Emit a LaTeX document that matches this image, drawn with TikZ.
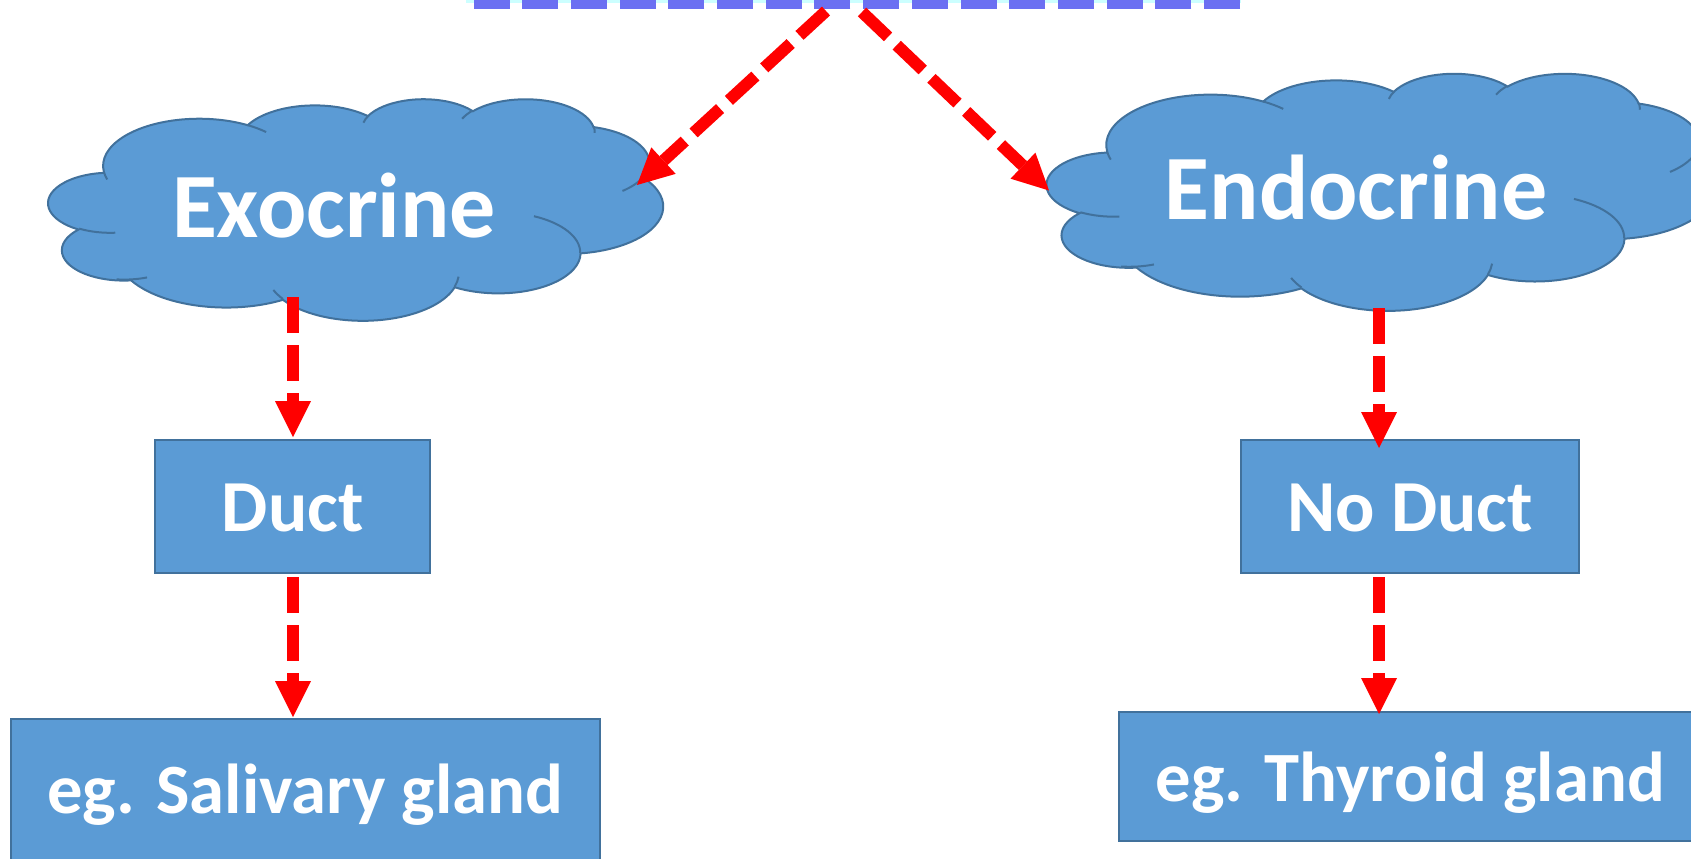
\documentclass[tikz,border=0pt]{standalone}
\usepackage{fontspec}
\setmainfont{Carlito}
\usetikzlibrary{arrows.meta}
\definecolor{fillblue}{HTML}{5B9BD5}
\definecolor{edgeblue}{HTML}{41719C}
\definecolor{topdash}{HTML}{6B70F2}
\definecolor{topfill}{HTML}{CCFFFF}
\newcommand\ooset[5]{%
  \pgfmathsetmacro\ooa{atan2(#2*sin(#4),#3*cos(#4))}%
  \pgfmathsetmacro\oob{atan2(#2*sin(#4+#5),#3*cos(#4+#5))}%
  \pgfmathsetmacro\ood{\oob-\ooa}%
  \pgfmathsetmacro\ood{\ood+360*round((#5-\ood)/360)}%
  \expandafter\xdef\csname ooS#1\endcsname{\ooa}%
  \expandafter\xdef\csname ooD#1\endcsname{\ood}%
}
\ooset{A}{67.53}{91.90}{-190.4875}{123.7805}
\ooset{B}{53.33}{72.67}{-144.1024}{89.9452}
\ooset{C}{43.65}{59.45}{-145.8079}{99.7230}
\ooset{D}{48.57}{65.95}{-130.9861}{117.2417}
\ooset{E}{53.33}{72.73}{-78.7089}{109.0269}
\ooset{F}{67.75}{92.20}{-46.2673}{130.2690}
\ooset{G}{57.85}{78.67}{0.6250}{114.0333}
\ooset{H}{67.52}{92.15}{22.4516}{115.1726}
\ooset{I}{77.20}{105.43}{66.2426}{75.7110}
\ooset{J}{43.60}{59.18}{-274.9421}{146.7356}
\ooset{K}{43.45}{59.45}{-246.8285}{152.5189}
\ooset{a}{43.45}{59.45}{86.7420}{26.4295}
\ooset{b}{43.60}{59.18}{73.6105}{21.4138}
\ooset{c}{67.52}{92.15}{137.6242}{14.0811}
\ooset{d}{67.52}{92.15}{6.4533}{15.9984}
\ooset{e}{57.85}{78.67}{-70.2924}{70.9174}
\ooset{f}{53.33}{72.73}{30.3180}{27.7515}
\ooset{g}{48.57}{65.95}{-13.7443}{14.8589}
\ooset{h}{48.57}{65.95}{-149.1815}{18.1954}
\ooset{i}{43.65}{59.45}{-163.4943}{17.6864}
\ooset{j}{67.53}{91.90}{-66.7070}{12.3194}
\ooset{k}{67.53}{91.90}{157.6544}{11.8582}
\tikzset{
  cloudshape/.style={fill=fillblue,draw=edgeblue,line width=1.5pt},
  cloudline/.style={draw=edgeblue,line width=1.5pt},
  cloudtext/.style={anchor=base,text=white,inner sep=0pt,font=\fontsize{69}{80}\selectfont\bfseries},
  box/.style={rectangle,fill=fillblue,draw=edgeblue,line width=1.5pt,inner sep=0pt,text=white,text depth=0pt},
  arr/.style={draw=red,line width=9pt,dash pattern=on 27pt off 9pt,-{Triangle[width=27pt,length=27pt,line width=0pt]}},
  topline/.style={draw=topdash,line width=9pt,dash pattern=on 27pt off 9.525pt}
}
\newcommand\drawcloud[4]{%
\begin{scope}[shift={(#1,#2)},x=1pt,y=1pt,xscale=#3,yscale=#4]
\path[cloudshape] (39.00,143.70)
 arc[start angle=\ooSA,delta angle=\ooDA,x radius=67.53,y radius=91.90]
 arc[start angle=\ooSB,delta angle=\ooDB,x radius=53.33,y radius=72.67]
 arc[start angle=\ooSC,delta angle=\ooDC,x radius=43.65,y radius=59.45]
 arc[start angle=\ooSD,delta angle=\ooDD,x radius=48.57,y radius=65.95]
 arc[start angle=\ooSE,delta angle=\ooDE,x radius=53.33,y radius=72.73]
 arc[start angle=\ooSF,delta angle=\ooDF,x radius=67.75,y radius=92.20]
 arc[start angle=\ooSG,delta angle=\ooDG,x radius=57.85,y radius=78.67]
 arc[start angle=\ooSH,delta angle=\ooDH,x radius=67.52,y radius=92.15]
 arc[start angle=\ooSI,delta angle=\ooDI,x radius=77.20,y radius=105.43]
 arc[start angle=\ooSJ,delta angle=\ooDJ,x radius=43.60,y radius=59.18]
 arc[start angle=\ooSK,delta angle=\ooDK,x radius=43.45,y radius=59.45]
 -- cycle;
\path[cloudline]
 (46.93,261.77) arc[start angle=\ooSa,delta angle=\ooDa,x radius=43.45,y radius=59.45]
 (69.28,348.99) arc[start angle=\ooSb,delta angle=\ooDb,x radius=43.60,y radius=59.18]
 (164.78,390.90) arc[start angle=\ooSc,delta angle=\ooDc,x radius=67.52,y radius=92.15]
 (288.27,347.51) arc[start angle=\ooSd,delta angle=\ooDd,x radius=67.52,y radius=92.15]
 (341.29,229.54) arc[start angle=\ooSe,delta angle=\ooDe,x radius=57.85,y radius=78.67]
 (417.98,153.54) arc[start angle=\ooSf,delta angle=\ooDf,x radius=53.33,y radius=72.73]
 (383.24,54.26) arc[start angle=\ooSg,delta angle=\ooDg,x radius=48.57,y radius=65.95]
 (290.78,39.52) arc[start angle=\ooSh,delta angle=\ooDh,x radius=48.57,y radius=65.95]
 (221.41,47.20) arc[start angle=\ooSi,delta angle=\ooDi,x radius=43.65,y radius=59.45]
 (140.00,51.92) arc[start angle=\ooSj,delta angle=\ooDj,x radius=67.53,y radius=91.90]
 (41.27,157.89) arc[start angle=\ooSk,delta angle=\ooDk,x radius=67.53,y radius=91.90];
\end{scope}}
\begin{document}
\begin{tikzpicture}[x=0.75pt,y=-0.75pt]
\useasboundingbox (0,0) rectangle (1691,858);
\clip (0,0) rectangle (1691,858);
% top box fragment
\fill[topfill] (466,-20) rectangle (1241,2.7);
\draw[topline] (1240,2.7) -- (466,2.7);
% clouds
\drawcloud{48.5}{98.5}{1.06684}{-0.384549}
\drawcloud{1047}{73}{1.15799}{-0.411458}
\node[cloudtext] (exo) at (334,237) {Exocrine};
\node[cloudtext] (endo) at (1356,219) {Endocrine};
% boxes
\node[box,minimum width=206.3pt,minimum height=99.9pt,text height=38.25pt,font=\fontsize{55}{60}\selectfont\bfseries] (duct) at (292.7,506.1) {Duct};
\node[box,minimum width=253.2pt,minimum height=99.9pt,text height=38.25pt,font=\fontsize{55}{60}\selectfont\bfseries] (noduct) at (1410,506.1) {No Duct};
\node[box,minimum width=441.6pt,minimum height=109.3pt,text height=31.3pt,font=\fontsize{53}{60}\selectfont\bfseries] (saliv) at (305.2,792.15) {eg. Salivary gland};
\node[box,minimum width=436.2pt,minimum height=97pt,text height=37pt,font=\fontsize{53}{60}\selectfont\bfseries] (thyr) at (1410.2,776.35) {eg. Thyroid gland};
% connector ends
\coordinate (topL) at (826,11);
\coordinate (topR) at (862,12);
\coordinate (exoIn) at (637,185);
\coordinate (endoIn) at (1049,190.5);
\coordinate (exoOut) at (293,297);
\coordinate (ductIn) at (293,437);
\coordinate (ductOut) at (293,577);
\coordinate (salIn) at (293,717);
\coordinate (endoOut) at (1379,308);
\coordinate (noductIn) at (1379,448);
\coordinate (noductOut) at (1379,577);
\coordinate (thyIn) at (1379,714);
\draw[arr] (topL) -- (exoIn);
\draw[arr] (topR) -- (endoIn);
\draw[arr] (exoOut) -- (ductIn);
\draw[arr] (ductOut) -- (salIn);
\draw[arr] (endoOut) -- (noductIn);
\draw[arr] (noductOut) -- (thyIn);
\end{tikzpicture}
\end{document}
